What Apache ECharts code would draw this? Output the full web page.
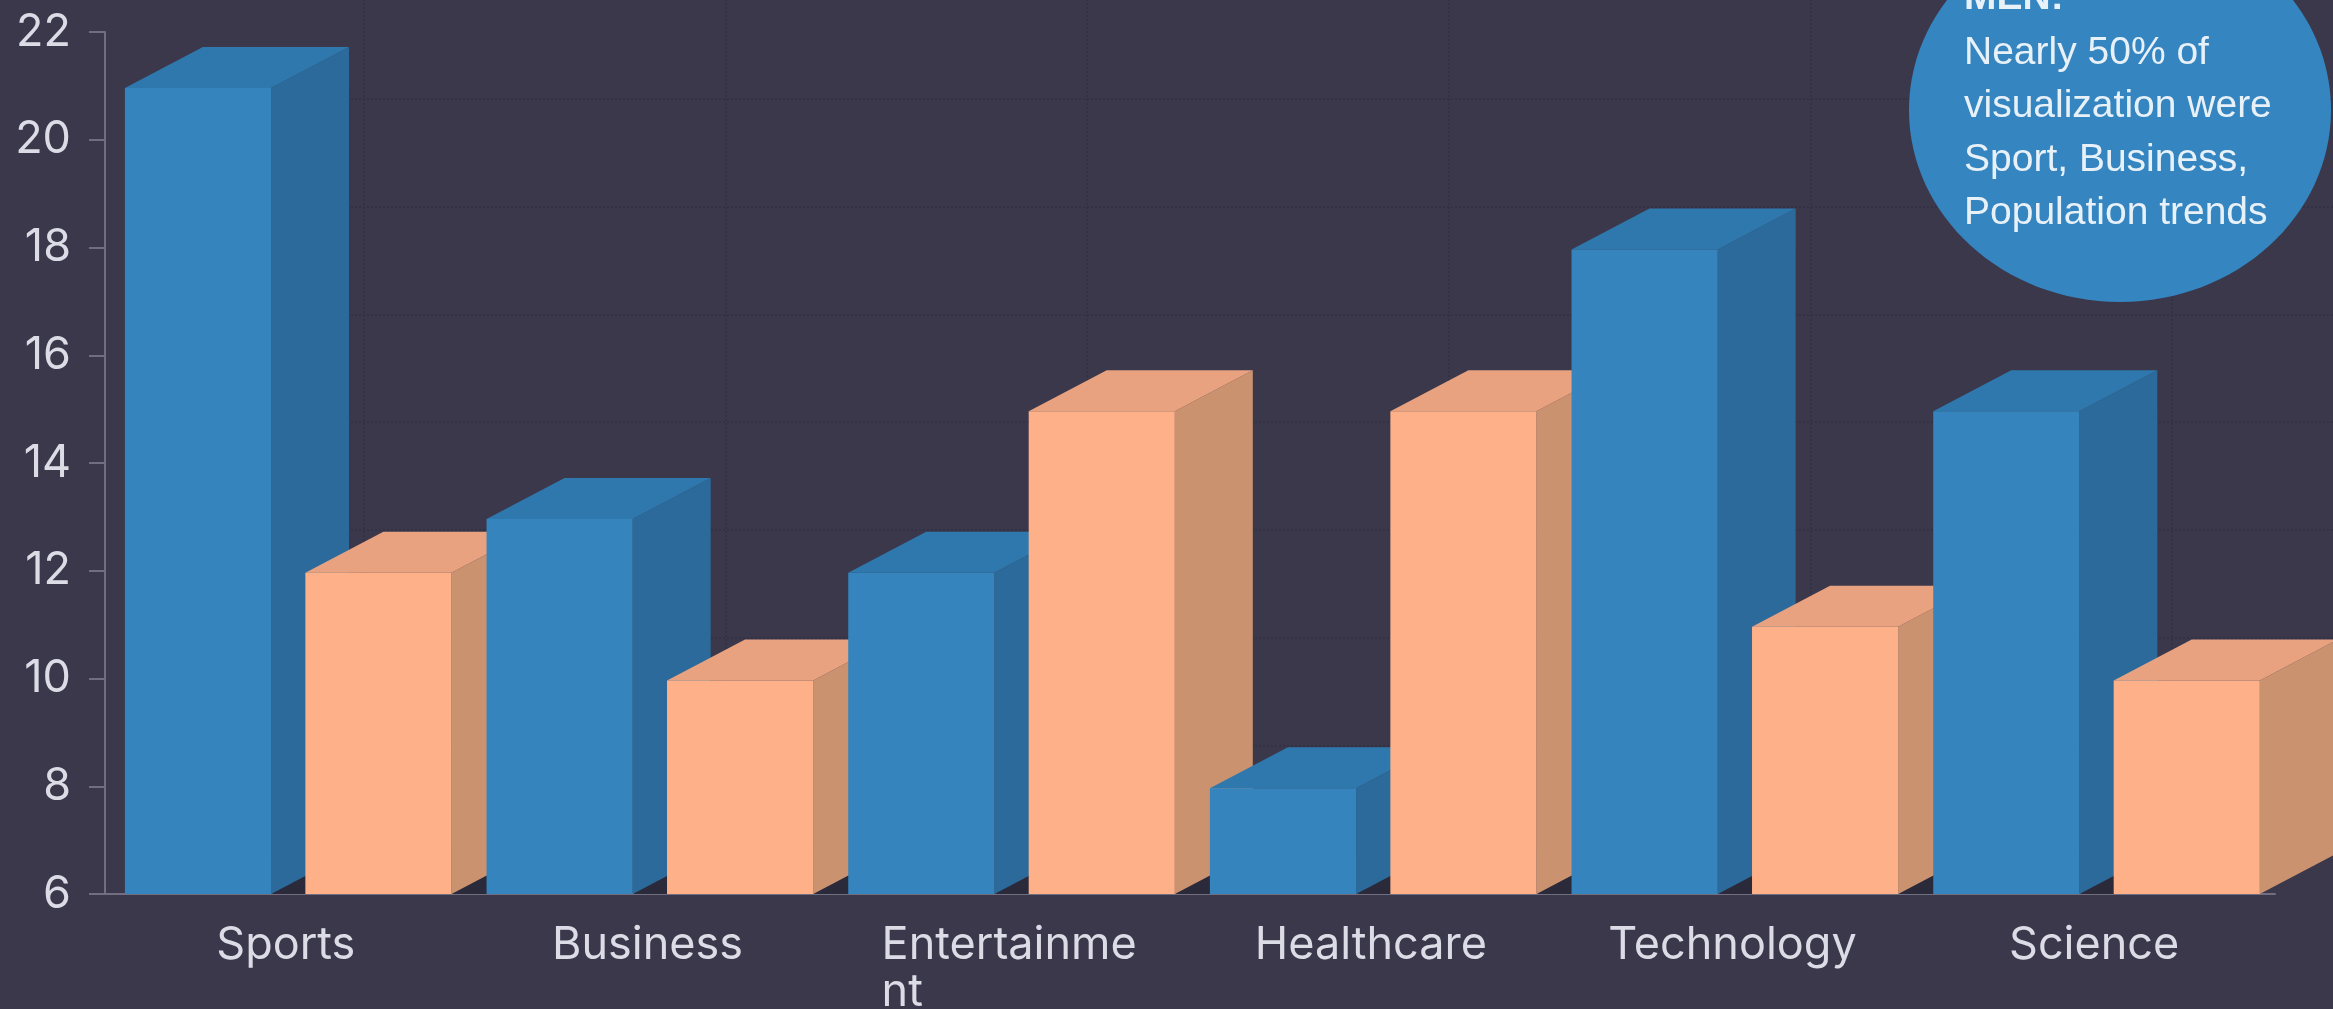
<!DOCTYPE html>
<html><head><meta charset="utf-8">
<style>html,body{margin:0;padding:0;background:#3b384c;overflow:hidden}#c{width:2333px;height:1009px}</style>
<script src="https://cdn.jsdelivr.net/npm/echarts@6/dist/echarts.min.js"></script>
</head><body><div id="c"></div>
<script>
const categories = ['Sports','Business','Entertainment','Healthcare','Technology','Science'];
const menValues = [21,13,12,8,18,15];
const womenValues = [12,10,15,15,11,10];
const noteTitle = 'MEN:';
const noteLines = ['Nearly 50% of','visualization were','Sport, Business,','Population trends'];

const DEPTH_X = 78, DEPTH_Y = 41, FONT = 'Inter, "Open Sans", sans-serif';
const BOTTOM_VALUE = 6;

function bar3d(offsetFrac, order, colors) {
  return function (params, api) {
    const i = api.value(0), v = api.value(1);
    const band = api.size([1, 0])[0];
    const top = api.coord([i, v]);
    const base = api.coord([i, BOTTOM_VALUE]);
    const w = band * 0.404;
    const xl = top[0] + band * offsetFrac, xr = xl + w;
    const yt = top[1] + 2, yb = base[1];
    const z2 = i * 10 + order;
    const poly = (pts, fill, dz) => ({type:'polygon', z2: z2 + dz, shape:{points:pts}, style:{fill:fill}, silent:true});
    const children = [
      poly([[xr,yt],[xr+DEPTH_X,yt-DEPTH_Y],[xr+DEPTH_X,yb-DEPTH_Y],[xr,yb]], colors.side, 1),
      poly([[xl,yt],[xl+DEPTH_X,yt-DEPTH_Y],[xr+DEPTH_X,yt-DEPTH_Y],[xr,yt]], colors.top, 2),
      poly([[xl,yt],[xr,yt],[xr,yb],[xl,yb]], colors.front, 3)
    ];
    const isLastBar = i === categories.length - 1 && order === 1;
    if (!isLastBar) {
      children.unshift(poly([[xr,yb],[xr+DEPTH_X,yb-DEPTH_Y],[xr+DEPTH_X,yb]], '#2b2a3a', 0));
    }
    return {type:'group', children};
  };
}

const axisColor = '#716f7f', labelColor = '#dcdce6', wallColor = '#333144';
const chart = echarts.init(document.getElementById('c'), null, {renderer:'canvas', width:2333, height:1009});
chart.setOption({
  animation:false,
  backgroundColor:'#3b384c',
  grid:[
    {left:105, right:58, top:32, bottom:115, outerBoundsMode:'none'},
    {left:183, right:-20, top:-9, bottom:156, outerBoundsMode:'none'}
  ],
  xAxis:[
    {type:'category', gridIndex:0, data:categories, boundaryGap:true,
     axisLine:{lineStyle:{color:axisColor,width:2}},
     axisTick:{alignWithLabel:true,length:16,lineStyle:{color:axisColor,width:2}},
     splitLine:{show:false},
     axisLabel:{interval:0, margin:28, color:labelColor,
       formatter:function(v){
         const parts = v === 'Entertainment' ? ['Entertainme','nt'] : [v];
         return parts.map(p => '{a|'+p+'}').join('\n');
       },
       rich:{a:{fontFamily:FONT,fontSize:45,color:labelColor,align:'left',lineHeight:47}}
     }},
    {type:'category', gridIndex:1, data:categories, boundaryGap:true,
     axisLine:{show:false}, axisTick:{show:false}, axisLabel:{show:false},
     splitLine:{show:true, alignWithLabel:true, lineStyle:{color:wallColor,width:2,type:'dotted'}}}
  ],
  yAxis:[
    {type:'value', gridIndex:0, min:6, max:22, interval:2,
     axisLine:{show:true,lineStyle:{color:axisColor,width:2}},
     axisTick:{show:true,length:16,lineStyle:{color:axisColor,width:2}},
     splitLine:{show:false},
     axisLabel:{margin:34,color:labelColor,fontFamily:FONT,fontSize:45}},
    {type:'value', gridIndex:1, min:6, max:22, interval:2,
     axisLine:{show:false}, axisTick:{show:false}, axisLabel:{show:false},
     splitLine:{show:true, lineStyle:{color:wallColor,width:2,type:'dotted'}}}
  ],
  series:[
    {name:'Men', type:'custom', xAxisIndex:0, yAxisIndex:0, clip:false,
     data:menValues.map((v,i)=>[i,v]), encode:{x:0,y:1},
     renderItem:bar3d(-0.445,0,{front:'#3584bd',side:'#2b6a9a',top:'#2f78ad'})},
    {name:'Women', type:'custom', xAxisIndex:0, yAxisIndex:0, clip:false,
     data:womenValues.map((v,i)=>[i,v]), encode:{x:0,y:1},
     renderItem:bar3d(0.054,1,{front:'#feb189',side:'#cb9270',top:'#e8a27f'})}
  ],
  graphic:[
    {type:'ellipse', z:50, shape:{cx:2120,cy:110,rx:211,ry:192}, style:{fill:'#3585c0'}},
    {type:'text', z:51, x:1964, y:-21, style:{text:noteTitle, fill:'#e8f1f8', font:'bold 39px "Liberation Sans", Arial, sans-serif', textVerticalAlign:'top'}},
    {type:'text', z:51, x:1964, y:26, style:{text:noteLines.join('\n'), fill:'#e8f1f8', font:'39px "Liberation Sans", Arial, sans-serif', lineHeight:53.5, textVerticalAlign:'top'}}
  ]
});
</script></body></html>
